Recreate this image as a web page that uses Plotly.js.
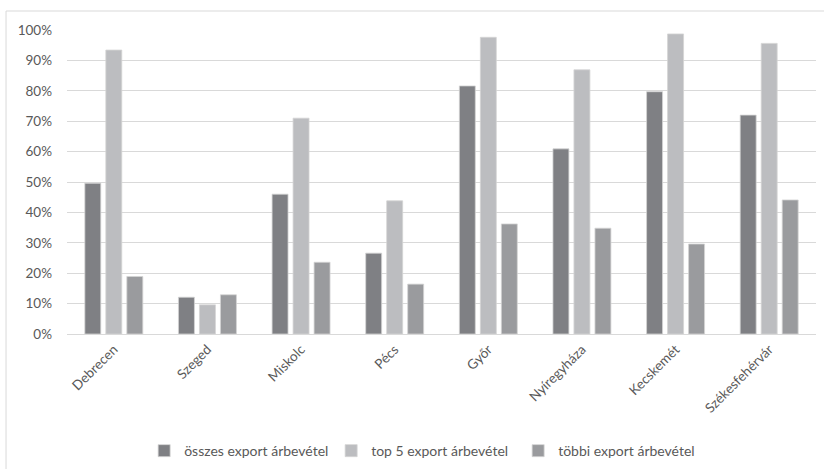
<!DOCTYPE html>
<html>
<head>
<meta charset="utf-8">
<script src="https://cdn.plot.ly/plotly-3.0.1.min.js"></script>
<style>
  html, body { margin: 0; padding: 0; background: #fff; }
  #chart { width: 824px; height: 469px; }
</style>
</head>
<body>
<div id="chart"></div>
<script>
// Cities (categories)
var cities = ['Debrecen', 'Szeged', 'Miskolc', 'Pécs', 'Győr', 'Nyíregyháza', 'Kecskemét', 'Székesfehérvár'];

// Share of revenue, percent
var osszesExport = [49.6, 12.1, 46.0, 26.6, 81.6, 60.9, 79.7, 72.0];
var top5Export   = [93.4,  9.6, 71.0, 43.8, 97.6, 86.9, 98.7, 95.6];
var tobbiExport  = [18.9, 12.9, 23.6, 16.4, 36.2, 34.8, 29.6, 44.1];

// Series names
var seriesNames = ['összes export árbevétel', 'top 5 export árbevétel', 'többi export árbevétel'];

// Y axis ticks
var yTicks = [0, 10, 20, 30, 40, 50, 60, 70, 80, 90, 100];

var fontFamily = 'Lato, "Open Sans", "DejaVu Sans", sans-serif';
var textColor = '#595959';
var gridColor = '#d9d9d9';

function barTrace(name, values, color) {
  return {
    type: 'bar',
    name: name,
    x: cities,
    y: values,
    marker: { color: color, line: { color: '#d4d4d4', width: 0.8 } },
    hoverinfo: 'x+y+name'
  };
}

var data = [
  barTrace(seriesNames[0], osszesExport, '#7f8084'),
  barTrace(seriesNames[1], top5Export, '#bcbdc0'),
  barTrace(seriesNames[2], tobbiExport, '#9a9b9e')
];

var layout = {
  width: 824,
  height: 469,
  margin: { l: 67, r: 8, t: 30, b: 135, pad: 0, autoexpand: false },
  paper_bgcolor: '#ffffff',
  plot_bgcolor: '#ffffff',
  font: { family: fontFamily, size: 13.5, color: textColor },
  barmode: 'group',
  bargap: 0.327,
  bargroupgap: 0.24,
  showlegend: true,
  legend: {
    orientation: 'h',
    x: 0.103,
    xanchor: 'left',
    y: -0.385,
    yanchor: 'middle',
    font: { family: fontFamily, size: 14, color: textColor },
    itemwidth: 30,
    entrywidth: 142,
    entrywidthmode: 'pixels',
    traceorder: 'normal'
  },
  xaxis: {
    type: 'category',
    tickangle: -45,
    showline: false,
    showgrid: false,
    ticks: '',
    automargin: false,
    ticklabelstandoff: 4,
    tickfont: { family: fontFamily, size: 13.5, color: textColor },
    fixedrange: true
  },
  yaxis: {
    range: [0, 100],
    tickvals: yTicks,
    ticktext: yTicks.map(function (v) { return v + '%'; }),
    showgrid: true,
    gridcolor: gridColor,
    gridwidth: 1,
    zeroline: true,
    zerolinecolor: gridColor,
    zerolinewidth: 1,
    showline: false,
    ticks: '',
    automargin: false,
    ticklabelstandoff: 14,
    tickfont: { family: fontFamily, size: 13.5, color: textColor },
    fixedrange: true
  },
  shapes: [
    {
      // chart frame
      type: 'rect',
      xref: 'paper', yref: 'paper',
      x0: -0.0814, x1: 1.2,
      y0: -0.6, y1: 1.0625,
      line: { color: '#d9d9d9', width: 1 },
      fillcolor: 'rgba(0,0,0,0)',
      layer: 'below'
    }
  ]
};

Plotly.newPlot('chart', data, layout, { displayModeBar: false, staticPlot: true });
</script>
</body>
</html>
